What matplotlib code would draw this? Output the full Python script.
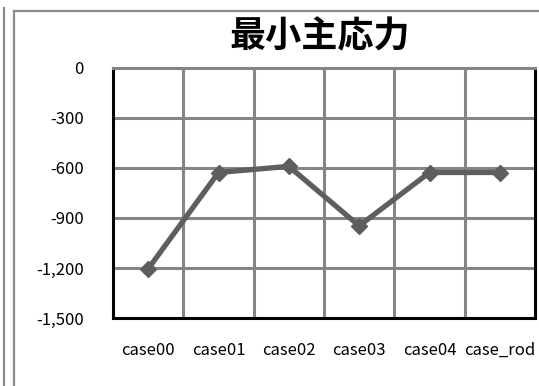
import matplotlib
matplotlib.use("Agg")
import matplotlib.pyplot as plt
from matplotlib.lines import Line2D

plt.rcParams['font.family'] = ['Noto Sans CJK JP', 'DejaVu Sans']

title = "最小主応力"
categories = ["case00", "case01", "case02", "case03", "case04", "case_rod"]
values = [-1205, -627, -590, -947, -627, -627]
yticks = [0, -300, -600, -900, -1200, -1500]

W, H = 539, 386
fig = plt.figure(figsize=(W / 100, H / 100), dpi=100)

# outer frame lines of the chart area
frame_col = "#8c8c8c"
fig.add_artist(Line2D([4 / W, 4 / W], [0, 1 - 8 / H], color=frame_col, lw=1.6,
                      transform=fig.transFigure))
fig.add_artist(Line2D([14 / W, 14 / W], [0, 1 - 11 / H], color=frame_col, lw=1.6,
                      transform=fig.transFigure))
fig.add_artist(Line2D([14 / W, 1], [1 - 11 / H, 1 - 11 / H], color=frame_col, lw=1.6,
                      transform=fig.transFigure))

left, right, top, bottom = 113, 535, 68, 318
ax = fig.add_axes([left / W, 1 - bottom / H, (right - left) / W, (bottom - top) / H])

n = len(categories)
x = [i + 0.5 for i in range(n)]
ax.set_xlim(0, n)
ax.set_ylim(-1500, 0)

# grid
grid_col = "#858585"
for i in range(1, n):
    ax.axvline(i, color=grid_col, lw=2.2, zorder=1)
for v in yticks:
    if v not in (0, -1500):
        ax.axhline(v, color=grid_col, lw=2.2, zorder=1)

ax.plot(x, values, color="#5e5e5e", lw=3.8, marker="D", markersize=8.5,
        markerfacecolor="#5e5e5e", markeredgecolor="#5e5e5e", zorder=3,
        solid_joinstyle="miter")

for s in ("left", "bottom", "right"):
    ax.spines[s].set_color("black")
    ax.spines[s].set_linewidth(2.2)
ax.spines["top"].set_color(grid_col)
ax.spines["top"].set_linewidth(2.2)

ax.set_yticks(yticks)
ax.set_yticklabels([f"{v:,}" for v in yticks])
ax.set_xticks(x)
ax.set_xticklabels(categories)
ax.tick_params(axis="both", length=0, labelsize=12, colors="black")
ax.tick_params(axis="y", pad=21)
ax.tick_params(axis="x", pad=17)

fig.text(320 / W, 1 - 37 / H, title, ha="center", va="center",
         fontsize=26, fontweight="bold")

fig.savefig("out.png", dpi=100)
